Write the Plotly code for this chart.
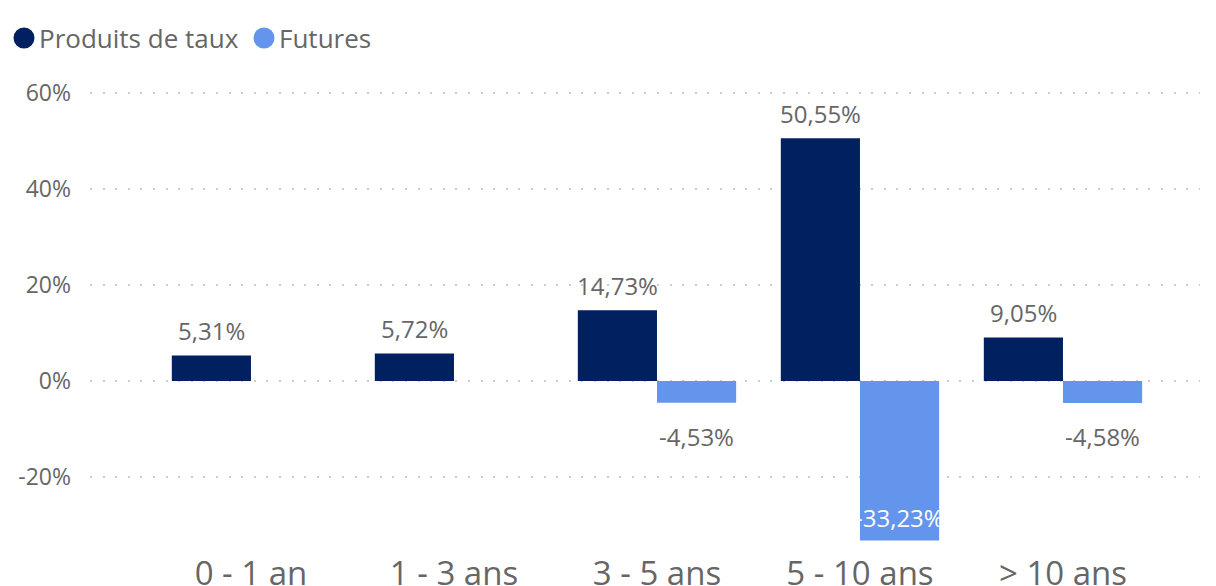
import plotly.graph_objects as go

categories = ["0 - 1 an", "1 - 3 ans", "3 - 5 ans", "5 - 10 ans", "> 10 ans"]
produits_de_taux = [5.31, 5.72, 14.73, 50.55, 9.05]
futures = [None, None, -4.53, -33.23, -4.58]
tick_vals = [-20, 0, 20, 40, 60]
tick_text = ["-20%", "0%", "20%", "40%", "60%"]
series_names = ["Produits de taux", "Futures"]

DARK = "#002060"
LIGHT = "#6495ED"
GRAY = "#666666"
FONT = "Open Sans"

Y_MIN, Y_MAX = -34.17, 63.75
BARGAP = 0.22
half = (1 - BARGAP) / 4  # offset of each bar center from category center

PAGE_OFF = 8  # browser default body margin
W, H = 1216 - PAGE_OFF, 586 - PAGE_OFF
ML, MT = 90 - PAGE_OFF, 75 - PAGE_OFF
MR = W - (1200 - PAGE_OFF)
MB = H - (545 - PAGE_OFF)

fig = go.Figure()
fig.add_trace(go.Bar(x=categories, y=produits_de_taux, name=series_names[0],
                     marker=dict(color=DARK, line=dict(width=0)), showlegend=False))
fig.add_trace(go.Bar(x=categories, y=futures, name=series_names[1],
                     marker=dict(color=LIGHT, line=dict(width=0)), showlegend=False))


def fmt(v):
    return f"{v:.2f}".replace(".", ",") + "%"


annotations = []
for series, off in ((produits_de_taux, -half), (futures, half)):
    for i, v in enumerate(series):
        if v is None:
            continue
        color = GRAY
        if v >= 0:
            shift = 25
        elif v - 10 < Y_MIN:
            color = "white"   # inside, at the end of the bar
            shift = 23
        else:
            shift = -34
        annotations.append(dict(x=i + off, y=v, xref="x", yref="y", text=fmt(v),
                                showarrow=False, yanchor="middle", yshift=shift,
                                font=dict(family=FONT, size=24, color=color)))

# custom legend: circles as shapes, names as annotations (pixel offsets, page coords)
shapes = []
legend_items = [(series_names[0], DARK, 24), (series_names[1], LIGHT, 264)]
LEG_Y = 38
for name, col, cx in legend_items:
    px = cx - PAGE_OFF - ML
    py = MT - (LEG_Y - PAGE_OFF)
    shapes.append(dict(type="circle", xref="paper", yref="paper", xsizemode="pixel",
                       ysizemode="pixel", xanchor=0, yanchor=1,
                       x0=px - 10.5, x1=px + 10.5, y0=py - 10.5, y1=py + 10.5,
                       fillcolor=col, line=dict(width=0)))
    annotations.append(dict(x=0, y=1, xref="paper", yref="paper", xanchor="left",
                            yanchor="middle", showarrow=False,
                            xshift=px + 13, yshift=py, text=name,
                            font=dict(family=FONT, size=26, color=GRAY)))

fig.update_layout(
    width=W, height=H,
    margin=dict(l=ML, r=MR, t=MT, b=MB),
    paper_bgcolor="white", plot_bgcolor="white",
    barmode="group", bargap=BARGAP, bargroupgap=0,
    font=dict(family=FONT, color=GRAY),
    annotations=annotations, shapes=shapes,
    xaxis=dict(range=[-0.793, 4.675], showgrid=False, zeroline=False, showline=False,
               ticks="", tickfont=dict(size=33, color=GRAY), ticklabelstandoff=6,
               automargin=False),
    yaxis=dict(range=[Y_MIN, Y_MAX], tickvals=tick_vals, ticktext=tick_text,
               showgrid=True, gridcolor="#cccccc", gridwidth=2, griddash="2px,10.6px",
               zeroline=False, showline=False, ticks="",
               tickfont=dict(size=23, color=GRAY), ticklabelstandoff=18,
               automargin=False),
)

fig.write_html("out.html")
